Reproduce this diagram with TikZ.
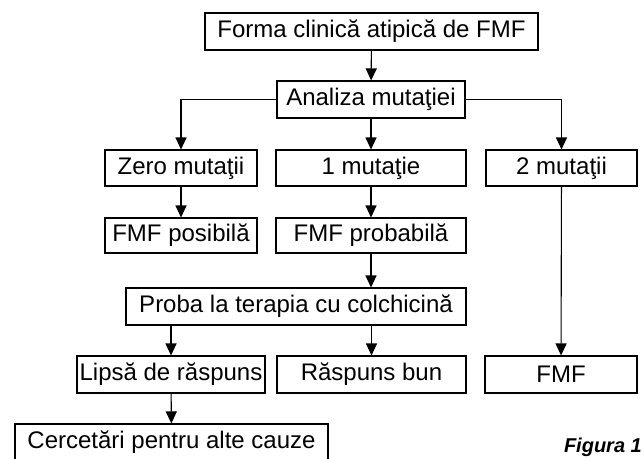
\documentclass[tikz,border=0pt]{standalone}
\usepackage{fontspec}
\setmainfont{Liberation Sans}
\usetikzlibrary{arrows.meta}
\tikzset{
  box/.style={draw, line width=1.1pt, inner sep=0pt, minimum height=37pt, font=\fontsize{24}{27}\selectfont},
  conn/.style={line width=1.1pt, -{Triangle[length=12pt,width=11pt]}},
}
\begin{document}
\begin{tikzpicture}[x=1pt,y=-1pt]
\useasboundingbox (0,0) rectangle (644,458);
\clip (0,0) rectangle (644,458);
\node[box, minimum width=333pt] (f1) at (371.5,31.5) {Forma clinică atipică de FMF};
\node[box, minimum width=188pt] (an) at (371,99.5) {Analiza mutaţiei};
\node[box, minimum width=152pt, minimum height=36pt] (z0) at (181,168) {Zero mutaţii};
\node[box, minimum width=190pt, minimum height=36pt] (m1) at (371,168) {1 mutaţie};
\node[box, minimum width=151pt, minimum height=36pt] (m2) at (561.5,168) {2 mutaţii};
\node[box, minimum width=152pt, minimum height=35pt] (fp) at (181,235.5) {FMF posibilă};
\node[box, minimum width=190pt, minimum height=35pt] (fpr) at (371,235.5) {FMF probabilă};
\node[box, minimum width=340pt] (pr) at (296,306.5) {Proba la terapia cu colchicină};
\node[box, minimum width=188pt] (lr) at (171,374.5) {Lipsă de răspuns};
\node[box, minimum width=189pt] (rb) at (371.5,374.5) {Răspuns bun};
\node[box, minimum width=152pt] (fm) at (561,374.5) {FMF};
\node[box, minimum width=313pt] (cc) at (171.5,442.5) {Cercetări pentru alte cauze};
\node[anchor=base east, inner sep=0pt, font=\fontsize{20}{24}\selectfont\bfseries\itshape] (fig) at (642,452) {Figura 1};
\draw[conn] (f1) -- (an);
\draw[conn] (an.west) -| (z0.north);
\draw[conn] (an.east) -| (m2.north);
\draw[conn] (an) -- (m1);
\draw[conn] (z0) -- (fp);
\draw[conn] (m1) -- (fpr);
\draw[conn] (fpr.south) -- (fpr.south |- pr.north);
\draw[conn] (pr.south -| lr.north) -- (lr.north);
\draw[conn] (pr.south -| rb.north) -- (rb.north);
\draw[conn] (m2) -- (fm);
\draw[conn] (lr) -- (cc);
\end{tikzpicture}
\end{document}
